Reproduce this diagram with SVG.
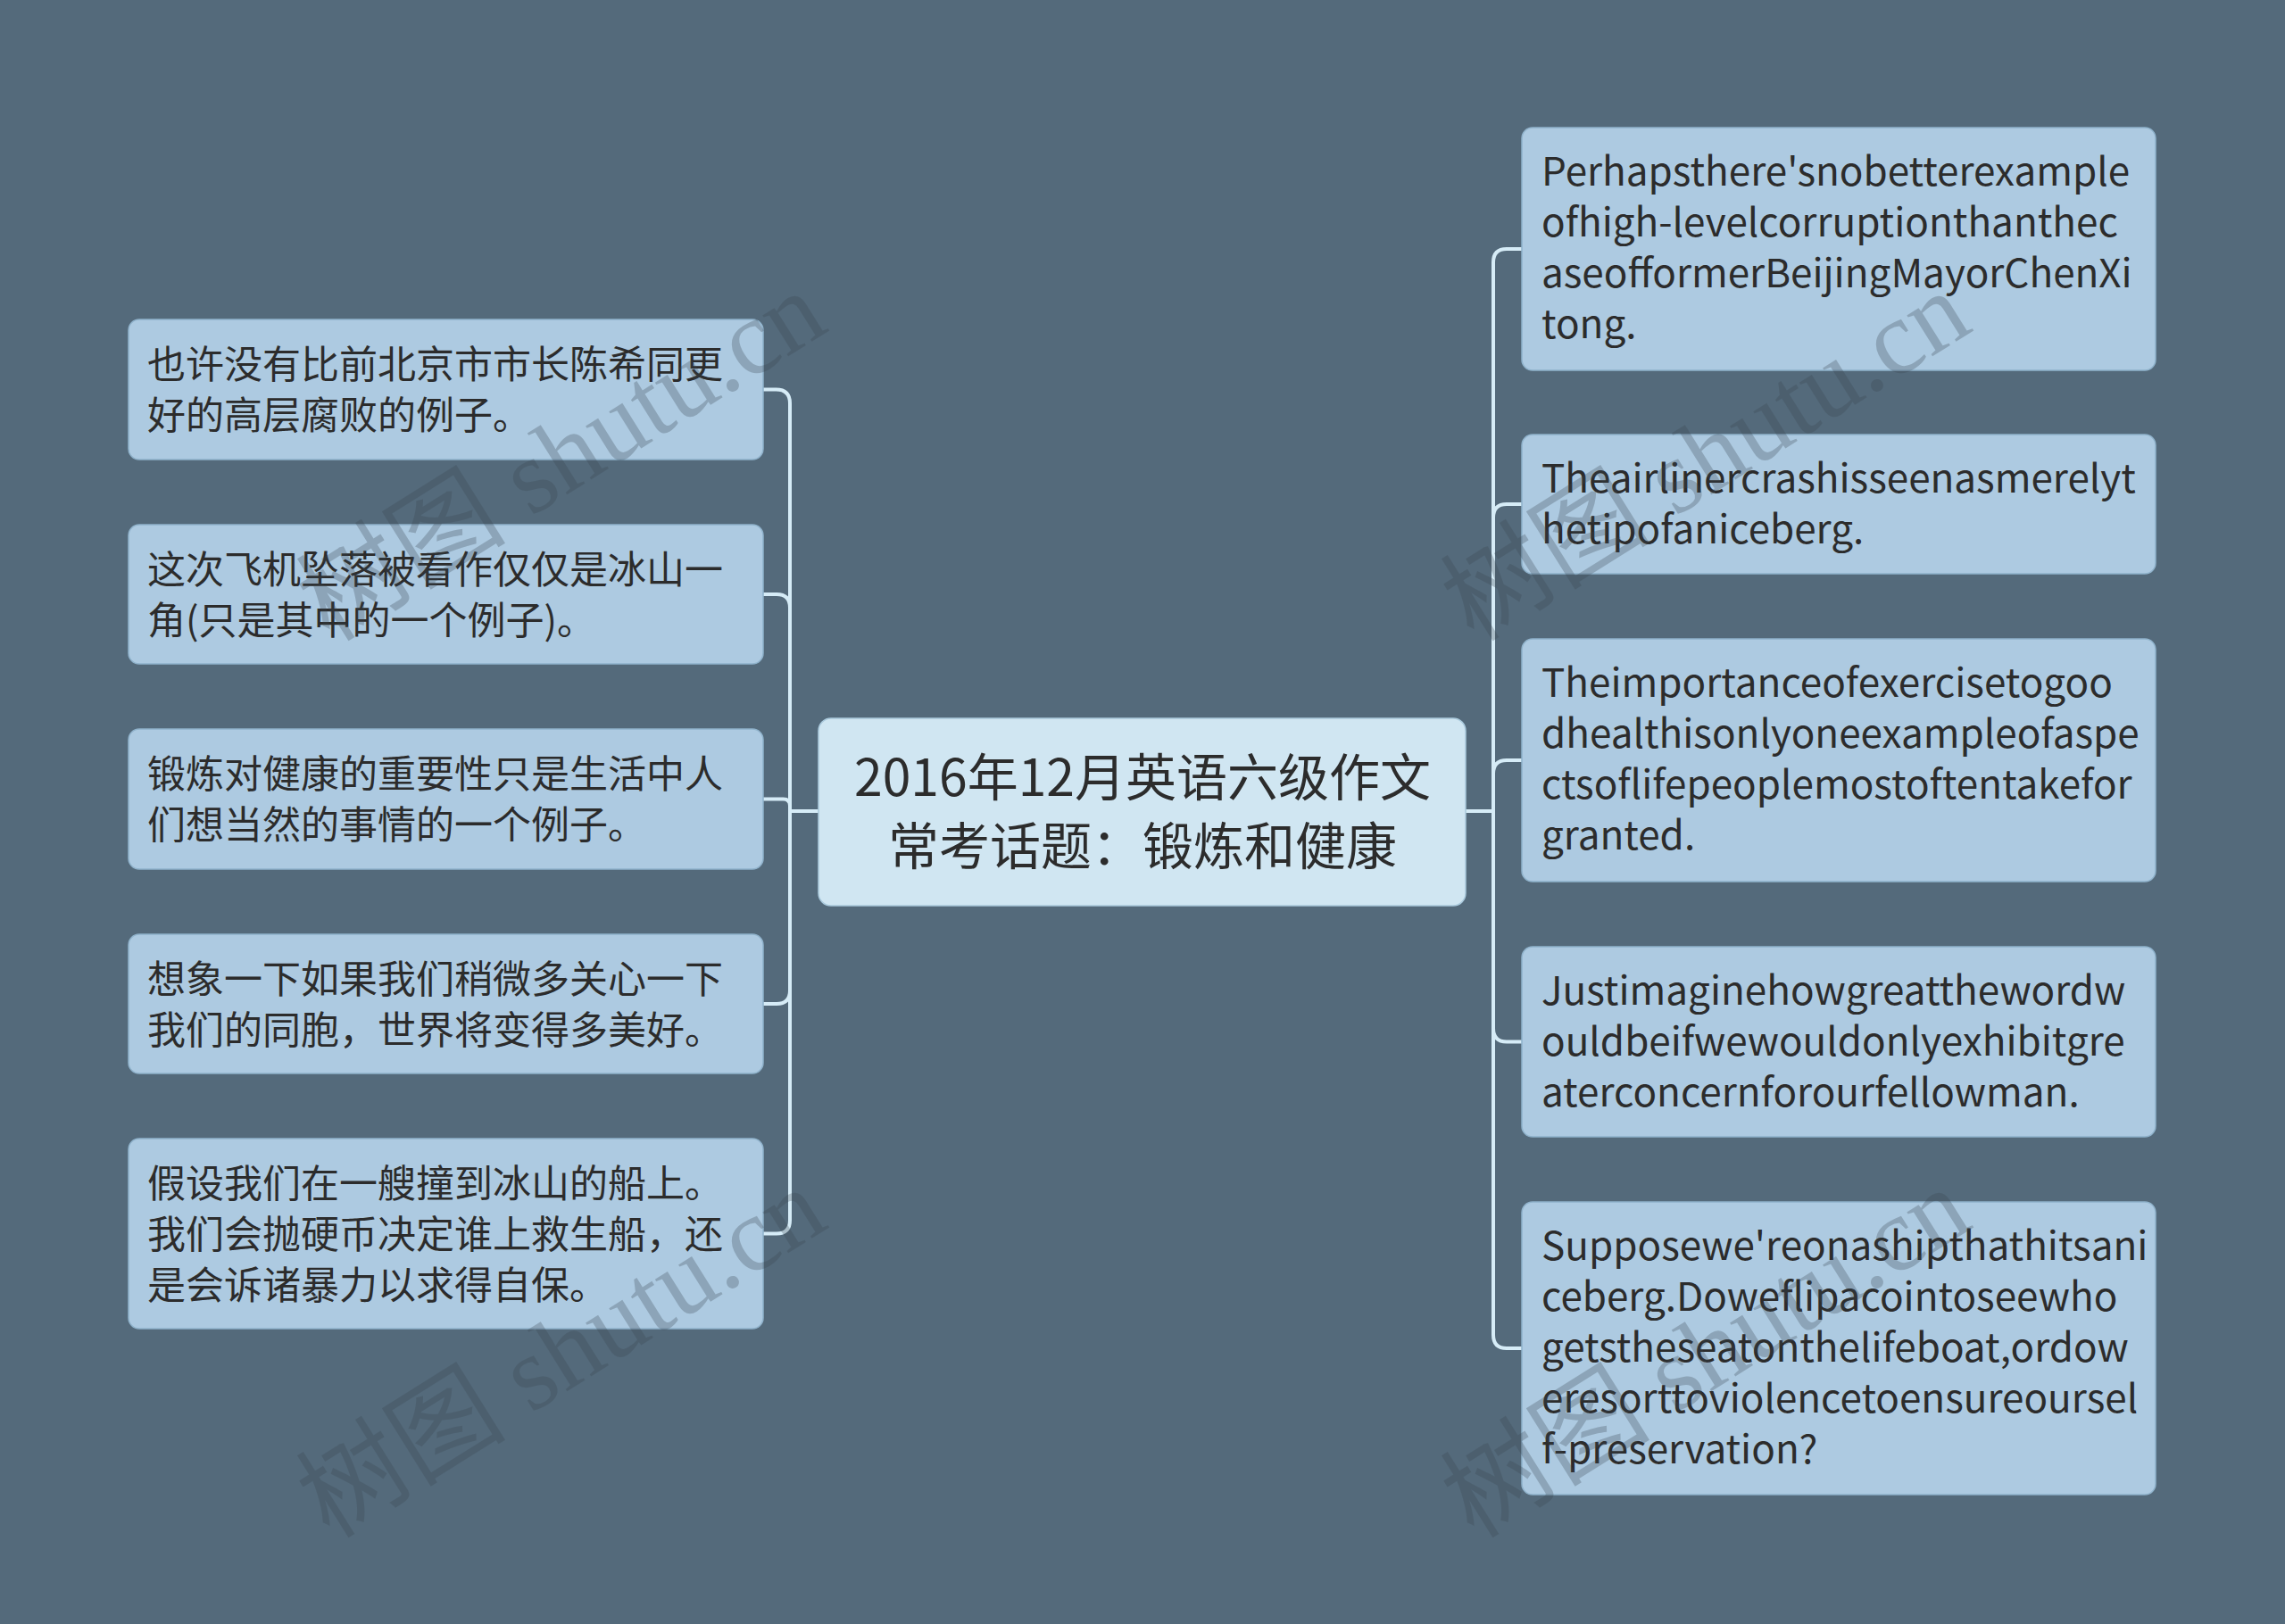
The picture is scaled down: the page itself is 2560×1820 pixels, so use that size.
<svg xmlns="http://www.w3.org/2000/svg" width="2560" height="1820" viewBox="0 0 2560 1820">
<style>
.bg{fill:#546a7b}
.node rect{fill:#adcae1;stroke:#8fb2cb;stroke-width:1.5}
.root rect{fill:#d0e6f2;stroke:#a9c9dc;stroke-width:1.5}
.cn{font-family:"Noto Sans CJK SC",sans-serif;font-size:43px;fill:#2c2c2c}
.en{font-family:"Noto Sans CJK SC",sans-serif;font-size:44px;fill:#2c2c2c}
.title{font-family:"Noto Sans CJK SC",sans-serif;font-size:57px;fill:#2c2c2c;text-anchor:middle}
.conn path{fill:none;stroke:#d6ecf7;stroke-width:4}
.wm{font-family:"Liberation Serif","Noto Sans CJK SC",serif;font-size:118px;fill:#3a4650;opacity:0.28;text-anchor:middle}
</style>
<rect class="bg" x="0" y="0" width="2560" height="1820"/>
<g id="connectors" class="conn">
<path d="M917,909 H885 V452 Q885,436.5 869.5,436.5 H855"/>
<path d="M917,909 H885 V681 Q885,666 870,666 H855"/>
<path d="M917,909 H885 V903 Q885,895.5 877.5,895.5 H855"/>
<path d="M917,909 H885 V1110 Q885,1125 870,1125 H855"/>
<path d="M917,909 H885 V1367.5 Q885,1382.5 870,1382.5 H855"/>
<path d="M1642,909 H1673 V294 Q1673,279 1688,279 H1705"/>
<path d="M1642,909 H1673 V580 Q1673,565 1688,565 H1705"/>
<path d="M1642,909 H1673 V867 Q1673,852 1688,852 H1705"/>
<path d="M1642,909 H1673 V1152.5 Q1673,1167.5 1688,1167.5 H1705"/>
<path d="M1642,909 H1673 V1496 Q1673,1511 1688,1511 H1705"/>
</g>
<g id="root" class="root">
<rect x="917" y="805" width="725" height="210" rx="14"/>
<text class="title" x="1280" y="892">2016年12月英语六级作文</text>
<text class="title" x="1280" y="969">常考话题：锻炼和健康</text>
</g>
<g id="left1" class="node">
<rect x="144" y="358" width="711" height="157" rx="12"/>
<text class="cn" x="165" y="424">也许没有比前北京市市长陈希同更</text>
<text class="cn" x="165" y="481">好的高层腐败的例子。</text>
</g>
<g id="left2" class="node">
<rect x="144" y="588" width="711" height="156" rx="12"/>
<text class="cn" x="165" y="654">这次飞机坠落被看作仅仅是冰山一</text>
<text class="cn" x="165" y="711">角(只是其中的一个例子)。</text>
</g>
<g id="left3" class="node">
<rect x="144" y="817" width="711" height="157" rx="12"/>
<text class="cn" x="165" y="883">锻炼对健康的重要性只是生活中人</text>
<text class="cn" x="165" y="940">们想当然的事情的一个例子。</text>
</g>
<g id="left4" class="node">
<rect x="144" y="1047" width="711" height="156" rx="12"/>
<text class="cn" x="165" y="1113">想象一下如果我们稍微多关心一下</text>
<text class="cn" x="165" y="1170">我们的同胞，世界将变得多美好。</text>
</g>
<g id="left5" class="node">
<rect x="144" y="1276" width="711" height="213" rx="12"/>
<text class="cn" x="165" y="1342">假设我们在一艘撞到冰山的船上。</text>
<text class="cn" x="165" y="1399">我们会抛硬币决定谁上救生船，还</text>
<text class="cn" x="165" y="1456">是会诉诸暴力以求得自保。</text>
</g>
<g id="right1" class="node">
<rect x="1705" y="143" width="710" height="272" rx="12"/>
<text class="en" x="1727" y="208">Perhapsthere'snobetterexample</text>
<text class="en" x="1727" y="265">ofhigh-levelcorruptionthanthec</text>
<text class="en" x="1727" y="322">aseofformerBeijingMayorChenXi</text>
<text class="en" x="1727" y="379">tong.</text>
</g>
<g id="right2" class="node">
<rect x="1705" y="487" width="710" height="156" rx="12"/>
<text class="en" x="1727" y="552">Theairlinercrashisseenasmerelyt</text>
<text class="en" x="1727" y="609">hetipofaniceberg.</text>
</g>
<g id="right3" class="node">
<rect x="1705" y="716" width="710" height="272" rx="12"/>
<text class="en" x="1727" y="781">Theimportanceofexercisetogoo</text>
<text class="en" x="1727" y="838">dhealthisonlyoneexampleofaspe</text>
<text class="en" x="1727" y="895">ctsoflifepeoplemostoftentakefor</text>
<text class="en" x="1727" y="952">granted.</text>
</g>
<g id="right4" class="node">
<rect x="1705" y="1061" width="710" height="213" rx="12"/>
<text class="en" x="1727" y="1126">Justimaginehowgreatthewordw</text>
<text class="en" x="1727" y="1183">ouldbeifwewouldonlyexhibitgre</text>
<text class="en" x="1727" y="1240">aterconcernforourfellowman.</text>
</g>
<g id="right5" class="node">
<rect x="1705" y="1347" width="710" height="328" rx="12"/>
<text class="en" x="1727" y="1412">Supposewe'reonashipthathitsani</text>
<text class="en" x="1727" y="1469">ceberg.Doweflipacointoseewho</text>
<text class="en" x="1727" y="1526">getstheseatonthelifeboat,ordow</text>
<text class="en" x="1727" y="1583">eresorttoviolencetoensureoursel</text>
<text class="en" x="1727" y="1640">f-preservation?</text>
</g>
<g id="watermarks">
<text class="wm" transform="translate(650,545) rotate(-32)">树图 shutu.cn</text>
<text class="wm" transform="translate(1932,545) rotate(-32)">树图 shutu.cn</text>
<text class="wm" transform="translate(650,1550) rotate(-32)">树图 shutu.cn</text>
<text class="wm" transform="translate(1932,1550) rotate(-32)">树图 shutu.cn</text>
</g>
</svg>
